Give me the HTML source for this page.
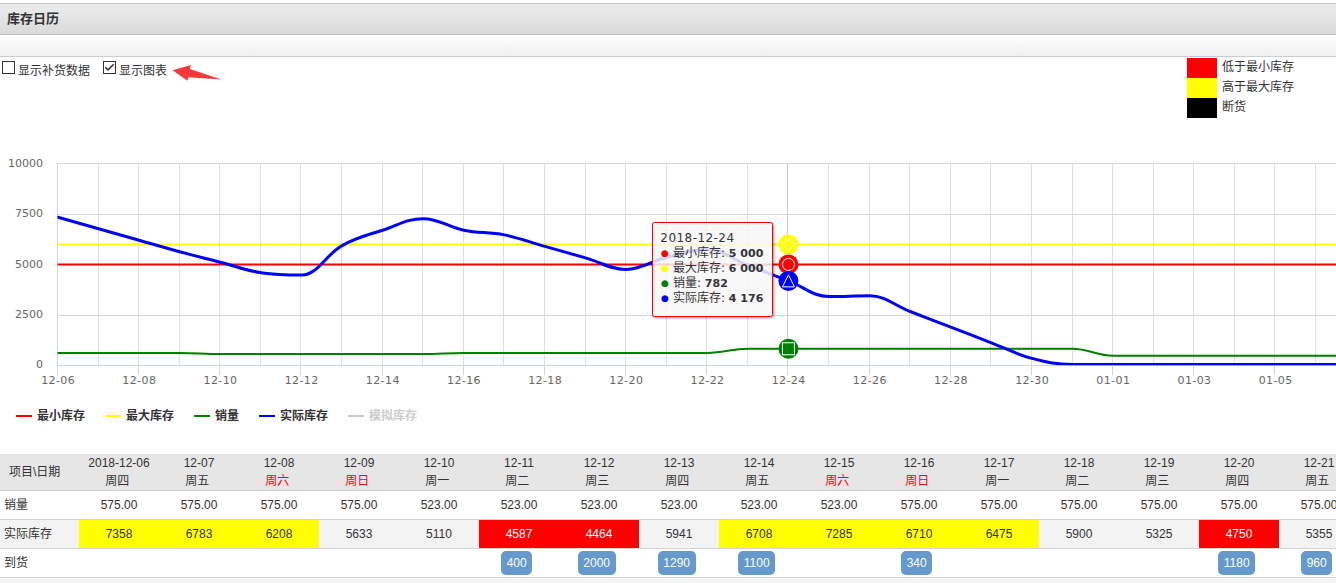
<!DOCTYPE html>
<html><head><meta charset="utf-8"><title>库存日历</title>
<style>
html,body{margin:0;padding:0;background:#fff;}
body{width:1336px;height:583px;overflow:hidden;position:relative;font-family:"Liberation Sans","Noto Sans CJK SC",sans-serif;font-size:12px;color:#333;}
.bar1{position:absolute;left:0;top:3px;width:1336px;height:30px;border-top:1px solid #c9c9c9;border-bottom:1px solid #bdbdbd;background:linear-gradient(#ececec,#dadada);}
.bar1 b{position:absolute;left:7px;top:6px;font-size:13px;line-height:18px;color:#333;}
.bar2{position:absolute;left:0;top:35px;width:1336px;height:21px;border-bottom:1px solid #c8cdd3;background:linear-gradient(#ffffff,#f0f0f0);}
.cb{position:absolute;top:61px;width:11px;height:11px;border:1px solid #333;background:#fff;}
.cbl{position:absolute;top:63px;line-height:17px;font-size:12px;color:#333;}
.lgb{position:absolute;left:1187px;width:30px;height:20px;}
.lgt{position:absolute;left:1222px;line-height:20px;font-size:12px;color:#333;}
svg.chart{position:absolute;left:0;top:0;}
svg text{font-family:"DejaVu Sans","Noto Sans CJK SC",sans-serif;}
.axl text{font-size:11px;fill:#666666;}
.xl text{letter-spacing:0.4px;}
text.lg{font-family:"Liberation Sans","Noto Sans CJK SC",sans-serif;font-size:12px;font-weight:bold;}
.tt text{font-size:12px;fill:#333333;font-family:"DejaVu Sans","Noto Sans CJK SC",sans-serif;}
.tt text.tth{font-size:12px;letter-spacing:0.45px;}
.tt text.dot{font-size:9px;}
.tt tspan.v{font-weight:bold;font-size:11px;}
.thbg{position:absolute;left:0;top:454px;width:1336px;height:36px;background:#e6e6e6;border-bottom:1px solid #cfcfcf;}
.rw{position:absolute;left:0;width:1336px;height:28px;border-bottom:1px solid #d4d4d4;}
.hd{position:absolute;top:454px;width:80px;height:36px;text-align:center;line-height:18px;font-size:12px;color:#333;}
.we{color:#ff0000;}
.wd{position:relative;left:-1.7px;}
.c{position:absolute;width:80px;height:28px;line-height:28px;text-align:center;font-size:12px;color:#333;}
.r1{top:491px;}
.r2{top:520px;}
.r3{top:549px;}
.c.y{background:#ffff00;}
.c.r{background:#ff0000;color:#fff;}
.bd{display:inline-block;background:#6699cc;color:#fff;border-radius:5px;padding:0 5.5px;height:24px;line-height:24px;vertical-align:top;margin-top:2px;position:relative;left:-2.3px;}
.rl{position:absolute;left:4px;line-height:28px;font-size:12px;color:#333;}
</style></head><body>
<div class="bar1"><b>库存日历</b></div>
<div class="bar2"></div>
<div class="cb" style="left:2px"></div><div class="cbl" style="left:18px">显示补货数据</div>
<div class="cb" style="left:103px"><svg width="11" height="11" viewBox="0 0 11 11" style="position:absolute;left:0;top:0"><path d="M1.2 5.3 L3.9 7.9 L9.7 2.3" fill="none" stroke="#333" stroke-width="1.5"/></svg></div><div class="cbl" style="left:119px">显示图表</div>
<svg width="60" height="30" style="position:absolute;left:168px;top:58px" viewBox="168 58 60 30"><path d="M172.6 70.2 L190.8 65.1 L189.9 69.1 L221.3 79.4 L188.2 77.2 L187.5 80.8 Z" fill="#fa3a3a"/></svg>
<div class="lgb" style="top:58px;background:#ff0000"></div><div class="lgt" style="top:57px">低于最小库存</div>
<div class="lgb" style="top:78px;background:#ffff00"></div><div class="lgt" style="top:77px">高于最大库存</div>
<div class="lgb" style="top:98px;background:#000000"></div><div class="lgt" style="top:97px">断货</div>
<svg class="chart" width="1336" height="583" viewBox="0 0 1336 583">
<defs><clipPath id="pc"><rect x="57.5" y="163" width="1300" height="202.2"/></clipPath>
<filter id="sh" x="-10%" y="-10%" width="130%" height="130%"><feDropShadow dx="1" dy="1" stdDeviation="1" flood-color="#000" flood-opacity="0.15"/></filter></defs>
<g><line x1="57" y1="163.5" x2="1336" y2="163.5" stroke="#d8d8d8" stroke-width="1"/><line x1="57" y1="214.5" x2="1336" y2="214.5" stroke="#d8d8d8" stroke-width="1"/><line x1="57" y1="264.5" x2="1336" y2="264.5" stroke="#d8d8d8" stroke-width="1"/><line x1="57" y1="315.5" x2="1336" y2="315.5" stroke="#d8d8d8" stroke-width="1"/><line x1="57.5" y1="163.5" x2="57.5" y2="365" stroke="#dedede" stroke-width="1"/><line x1="98.5" y1="163.5" x2="98.5" y2="365" stroke="#dedede" stroke-width="1"/><line x1="138.5" y1="163.5" x2="138.5" y2="365" stroke="#dedede" stroke-width="1"/><line x1="179.5" y1="163.5" x2="179.5" y2="365" stroke="#dedede" stroke-width="1"/><line x1="219.5" y1="163.5" x2="219.5" y2="365" stroke="#dedede" stroke-width="1"/><line x1="260.5" y1="163.5" x2="260.5" y2="365" stroke="#dedede" stroke-width="1"/><line x1="300.5" y1="163.5" x2="300.5" y2="365" stroke="#dedede" stroke-width="1"/><line x1="341.5" y1="163.5" x2="341.5" y2="365" stroke="#dedede" stroke-width="1"/><line x1="382.5" y1="163.5" x2="382.5" y2="365" stroke="#dedede" stroke-width="1"/><line x1="422.5" y1="163.5" x2="422.5" y2="365" stroke="#dedede" stroke-width="1"/><line x1="463.5" y1="163.5" x2="463.5" y2="365" stroke="#dedede" stroke-width="1"/><line x1="503.5" y1="163.5" x2="503.5" y2="365" stroke="#dedede" stroke-width="1"/><line x1="544.5" y1="163.5" x2="544.5" y2="365" stroke="#dedede" stroke-width="1"/><line x1="585.5" y1="163.5" x2="585.5" y2="365" stroke="#dedede" stroke-width="1"/><line x1="625.5" y1="163.5" x2="625.5" y2="365" stroke="#dedede" stroke-width="1"/><line x1="666.5" y1="163.5" x2="666.5" y2="365" stroke="#dedede" stroke-width="1"/><line x1="706.5" y1="163.5" x2="706.5" y2="365" stroke="#dedede" stroke-width="1"/><line x1="747.5" y1="163.5" x2="747.5" y2="365" stroke="#dedede" stroke-width="1"/><line x1="787.5" y1="163.5" x2="787.5" y2="365" stroke="#dedede" stroke-width="1"/><line x1="828.5" y1="163.5" x2="828.5" y2="365" stroke="#dedede" stroke-width="1"/><line x1="869.5" y1="163.5" x2="869.5" y2="365" stroke="#dedede" stroke-width="1"/><line x1="909.5" y1="163.5" x2="909.5" y2="365" stroke="#dedede" stroke-width="1"/><line x1="950.5" y1="163.5" x2="950.5" y2="365" stroke="#dedede" stroke-width="1"/><line x1="990.5" y1="163.5" x2="990.5" y2="365" stroke="#dedede" stroke-width="1"/><line x1="1031.5" y1="163.5" x2="1031.5" y2="365" stroke="#dedede" stroke-width="1"/><line x1="1072.5" y1="163.5" x2="1072.5" y2="365" stroke="#dedede" stroke-width="1"/><line x1="1112.5" y1="163.5" x2="1112.5" y2="365" stroke="#dedede" stroke-width="1"/><line x1="1153.5" y1="163.5" x2="1153.5" y2="365" stroke="#dedede" stroke-width="1"/><line x1="1193.5" y1="163.5" x2="1193.5" y2="365" stroke="#dedede" stroke-width="1"/><line x1="1234.5" y1="163.5" x2="1234.5" y2="365" stroke="#dedede" stroke-width="1"/><line x1="1274.5" y1="163.5" x2="1274.5" y2="365" stroke="#dedede" stroke-width="1"/><line x1="1315.5" y1="163.5" x2="1315.5" y2="365" stroke="#dedede" stroke-width="1"/><line x1="1356.5" y1="163.5" x2="1356.5" y2="365" stroke="#dedede" stroke-width="1"/><line x1="1396.5" y1="163.5" x2="1396.5" y2="365" stroke="#dedede" stroke-width="1"/></g>
<line x1="787.5" y1="163.5" x2="787.5" y2="365" stroke="#cccccc" stroke-width="1"/>
<line x1="57.5" y1="163" x2="57.5" y2="366" stroke="#ccd6eb" stroke-width="1"/>
<line x1="57" y1="365.5" x2="1336" y2="365.5" stroke="#ccd6eb" stroke-width="1"/>
<g><line x1="57.5" y1="365" x2="57.5" y2="375" stroke="#ccd6eb" stroke-width="1"/><line x1="138.5" y1="365" x2="138.5" y2="375" stroke="#ccd6eb" stroke-width="1"/><line x1="219.5" y1="365" x2="219.5" y2="375" stroke="#ccd6eb" stroke-width="1"/><line x1="300.5" y1="365" x2="300.5" y2="375" stroke="#ccd6eb" stroke-width="1"/><line x1="382.5" y1="365" x2="382.5" y2="375" stroke="#ccd6eb" stroke-width="1"/><line x1="463.5" y1="365" x2="463.5" y2="375" stroke="#ccd6eb" stroke-width="1"/><line x1="544.5" y1="365" x2="544.5" y2="375" stroke="#ccd6eb" stroke-width="1"/><line x1="625.5" y1="365" x2="625.5" y2="375" stroke="#ccd6eb" stroke-width="1"/><line x1="706.5" y1="365" x2="706.5" y2="375" stroke="#ccd6eb" stroke-width="1"/><line x1="787.5" y1="365" x2="787.5" y2="375" stroke="#ccd6eb" stroke-width="1"/><line x1="869.5" y1="365" x2="869.5" y2="375" stroke="#ccd6eb" stroke-width="1"/><line x1="950.5" y1="365" x2="950.5" y2="375" stroke="#ccd6eb" stroke-width="1"/><line x1="1031.5" y1="365" x2="1031.5" y2="375" stroke="#ccd6eb" stroke-width="1"/><line x1="1112.5" y1="365" x2="1112.5" y2="375" stroke="#ccd6eb" stroke-width="1"/><line x1="1193.5" y1="365" x2="1193.5" y2="375" stroke="#ccd6eb" stroke-width="1"/><line x1="1274.5" y1="365" x2="1274.5" y2="375" stroke="#ccd6eb" stroke-width="1"/><line x1="1356.5" y1="365" x2="1356.5" y2="375" stroke="#ccd6eb" stroke-width="1"/></g>
<g class="axl xl"><text x="58.2" y="384" text-anchor="middle">12-06</text><text x="139.3" y="384" text-anchor="middle">12-08</text><text x="220.5" y="384" text-anchor="middle">12-10</text><text x="301.7" y="384" text-anchor="middle">12-12</text><text x="382.8" y="384" text-anchor="middle">12-14</text><text x="464.0" y="384" text-anchor="middle">12-16</text><text x="545.2" y="384" text-anchor="middle">12-18</text><text x="626.3" y="384" text-anchor="middle">12-20</text><text x="707.5" y="384" text-anchor="middle">12-22</text><text x="788.7" y="384" text-anchor="middle">12-24</text><text x="869.8" y="384" text-anchor="middle">12-26</text><text x="951.0" y="384" text-anchor="middle">12-28</text><text x="1032.2" y="384" text-anchor="middle">12-30</text><text x="1113.3" y="384" text-anchor="middle">01-01</text><text x="1194.5" y="384" text-anchor="middle">01-03</text><text x="1275.7" y="384" text-anchor="middle">01-05</text><text x="1356.8" y="384" text-anchor="middle">01-07</text></g>
<g class="axl"><text x="43" y="167.0" text-anchor="end">10000</text><text x="43" y="217.3" text-anchor="end">7500</text><text x="43" y="267.6" text-anchor="end">5000</text><text x="43" y="317.9" text-anchor="end">2500</text><text x="43" y="368.2" text-anchor="end">0</text></g>
<g clip-path="url(#pc)" fill="none" stroke-linejoin="round" stroke-linecap="round">
<path d="M 57.5 264.40 L 1400 264.40" stroke="#ff0000" stroke-width="2"/>
<path d="M 57.5 244.40 L 1400 244.40" stroke="#ffff00" stroke-width="2"/>
<path d="M 57.97 352.90 C 57.97 352.90 82.32 352.90 98.55 352.90 C 114.79 352.90 122.90 352.90 139.14 352.90 C 155.37 352.90 163.49 352.90 179.72 352.90 C 195.95 352.90 204.07 353.94 220.30 353.94 C 236.54 353.94 244.65 353.94 260.88 353.94 C 277.12 353.94 285.23 353.94 301.47 353.94 C 317.70 353.94 325.82 353.94 342.05 353.94 C 358.28 353.94 366.40 353.94 382.63 353.94 C 398.87 353.94 406.98 353.94 423.22 353.94 C 439.45 353.94 447.57 352.90 463.80 352.90 C 480.03 352.90 488.15 352.90 504.38 352.90 C 520.62 352.90 528.73 352.90 544.97 352.90 C 561.20 352.90 569.32 352.90 585.55 352.90 C 601.78 352.90 609.90 352.90 626.13 352.90 C 642.37 352.90 650.48 352.90 666.72 352.90 C 682.95 352.90 691.06 352.90 707.30 352.90 C 723.53 352.90 731.65 348.76 747.88 348.76 C 764.11 348.76 772.23 348.76 788.46 348.76 C 804.70 348.76 812.81 348.76 829.05 348.76 C 845.28 348.76 853.40 348.76 869.63 348.76 C 885.86 348.76 893.98 348.76 910.21 348.76 C 926.45 348.76 934.56 348.76 950.80 348.76 C 967.03 348.76 975.15 348.76 991.38 348.76 C 1007.61 348.76 1015.73 348.76 1031.96 348.76 C 1048.20 348.76 1056.31 348.76 1072.54 348.76 C 1088.78 348.76 1096.89 355.70 1113.13 355.70 C 1129.36 355.70 1137.48 355.70 1153.71 355.70 C 1169.94 355.70 1178.06 355.70 1194.29 355.70 C 1210.53 355.70 1218.64 355.70 1234.88 355.70 C 1251.11 355.70 1259.23 355.70 1275.46 355.70 C 1291.69 355.70 1299.81 355.70 1316.04 355.70 C 1332.28 355.70 1340.39 355.70 1356.63 355.70 C 1372.86 355.70 1397.21 355.70 1397.21 355.70" stroke="#008000" stroke-width="2"/>
<path d="M 57.97 217.24 C 57.97 217.24 82.32 224.14 98.55 228.74 C 114.79 233.34 122.90 235.64 139.14 240.24 C 155.37 244.84 163.49 247.35 179.72 251.74 C 195.95 256.13 204.07 258.02 220.30 262.20 C 236.54 266.38 244.65 270.20 260.88 272.66 C 277.12 275.12 285.23 275.12 301.47 275.12 C 317.70 275.12 325.82 254.56 342.05 245.58 C 358.28 236.60 366.40 235.62 382.63 230.24 C 398.87 224.86 406.98 218.70 423.22 218.70 C 439.45 218.70 447.57 226.96 463.80 230.20 C 480.03 233.44 488.15 231.66 504.38 234.90 C 520.62 238.14 528.73 241.80 544.97 246.40 C 561.20 251.00 569.32 253.30 585.55 257.90 C 601.78 262.50 609.90 269.40 626.13 269.40 C 642.37 269.40 650.48 261.26 666.72 257.30 C 682.95 253.34 691.06 249.60 707.30 249.60 C 723.53 249.60 731.65 258.98 747.88 265.24 C 764.11 271.50 772.23 274.62 788.46 280.88 C 804.70 287.14 812.81 296.52 829.05 296.52 C 845.28 296.52 853.40 295.86 869.63 295.86 C 885.86 295.86 893.98 305.24 910.21 311.50 C 926.45 317.76 934.56 320.88 950.80 327.14 C 967.03 333.40 975.15 336.52 991.38 342.78 C 1007.61 349.04 1015.73 354.10 1031.96 358.42 C 1048.20 362.74 1056.31 364.40 1072.54 364.40 C 1088.78 364.40 1096.89 364.40 1113.13 364.40 C 1129.36 364.40 1137.48 364.40 1153.71 364.40 C 1169.94 364.40 1178.06 364.40 1194.29 364.40 C 1210.53 364.40 1218.64 364.40 1234.88 364.40 C 1251.11 364.40 1259.23 364.40 1275.46 364.40 C 1291.69 364.40 1299.81 364.40 1316.04 364.40 C 1332.28 364.40 1340.39 364.40 1356.63 364.40 C 1372.86 364.40 1397.21 364.40 1397.21 364.40" stroke="#0000ff" stroke-width="3"/>
</g>
<circle cx="788.46" cy="244.40" r="10" fill="#ffff00"/><path d="M 788.46 238.40 L 794.46 244.40 L 788.46 250.40 L 782.46 244.40 Z" fill="#ffff00" stroke="#fff" stroke-width="1"/><circle cx="788.46" cy="264.40" r="10" fill="#ff0000"/><circle cx="788.46" cy="264.40" r="6" fill="#ff0000" stroke="#fff" stroke-width="1"/><circle cx="788.46" cy="348.76" r="10" fill="#008000"/><rect x="782.46" y="342.76" width="12" height="12" fill="#008000" stroke="#fff" stroke-width="1"/><circle cx="788.46" cy="280.88" r="10" fill="#0000ff"/><path d="M 788.46 274.88 L 794.46 286.88 L 782.46 286.88 Z" fill="#0000ff" stroke="#fff" stroke-width="1"/><path d="M 16 416 L 32 416" stroke="#ff0000" stroke-width="2"/><text class="lg" x="37" y="420" fill="#333333">最小库存</text><path d="M 105 416 L 121 416" stroke="#ffff00" stroke-width="2"/><text class="lg" x="126" y="420" fill="#333333">最大库存</text><path d="M 194 416 L 210 416" stroke="#008000" stroke-width="2"/><text class="lg" x="215" y="420" fill="#333333">销量</text><path d="M 259 416 L 275 416" stroke="#0000ff" stroke-width="2"/><text class="lg" x="280" y="420" fill="#333333">实际库存</text><path d="M 348 416 L 364 416" stroke="#cccccc" stroke-width="2"/><text class="lg" x="369" y="420" fill="#cccccc">模拟库存</text><g transform="translate(1,1)" fill="none"><rect x="652.5" y="222.5" width="120" height="94" rx="3" ry="3" stroke="rgba(0,0,0,0.05)" stroke-width="5"/><rect x="652.5" y="222.5" width="120" height="94" rx="3" ry="3" stroke="rgba(0,0,0,0.1)" stroke-width="3"/><rect x="652.5" y="222.5" width="120" height="94" rx="3" ry="3" stroke="rgba(0,0,0,0.15)" stroke-width="1"/></g>
<rect x="652.5" y="222.5" width="120" height="94" rx="2" ry="2" fill="rgba(247,247,247,0.85)" stroke="#ff0000" stroke-width="1"/>
<g class="tt">
<text x="660.3" y="241.8" class="tth">2018-12-24</text>
<text x="661" y="255.8" class="dot" style="fill:#ff0000">●</text><text x="673" y="257">最小库存: <tspan class="v">5 000</tspan></text>
<text x="661" y="270.8" class="dot" style="fill:#ffff00">●</text><text x="673" y="272">最大库存: <tspan class="v">6 000</tspan></text>
<text x="661" y="285.8" class="dot" style="fill:#008000">●</text><text x="673" y="287">销量: <tspan class="v">782</tspan></text>
<text x="661" y="300.8" class="dot" style="fill:#0000ff">●</text><text x="673" y="302">实际库存: <tspan class="v">4 176</tspan></text>
</g>
</svg>
<div class="thbg"></div>
<div class="hd" style="left:9px;width:auto;text-align:left;line-height:36px;">项目\日期</div>
<div class="rw" style="top:491px;background:#fff"></div>
<div class="rw" style="top:520px;background:#f3f3f3"></div>
<div class="rw" style="top:549px;background:#fff"></div>
<div style="position:absolute;left:0;top:579px;width:1336px;height:4px;background:#f4f4f4"></div>
<div class="rl" style="top:491px">销量</div>
<div class="rl" style="top:520px">实际库存</div>
<div class="rl" style="top:549px">到货</div>
<div class="hd" style="left:79px">2018-12-06<br><span class="wd">周四</span></div><div class="c r1" style="left:79px">575.00</div><div class="c r2 y" style="left:79px">7358</div><div class="hd" style="left:159px">12-07<br><span class="wd">周五</span></div><div class="c r1" style="left:159px">575.00</div><div class="c r2 y" style="left:159px">6783</div><div class="hd" style="left:239px">12-08<br><span class="wd we">周六</span></div><div class="c r1" style="left:239px">575.00</div><div class="c r2 y" style="left:239px">6208</div><div class="hd" style="left:319px">12-09<br><span class="wd we">周日</span></div><div class="c r1" style="left:319px">575.00</div><div class="c r2 " style="left:319px">5633</div><div class="hd" style="left:399px">12-10<br><span class="wd">周一</span></div><div class="c r1" style="left:399px">523.00</div><div class="c r2 " style="left:399px">5110</div><div class="hd" style="left:479px">12-11<br><span class="wd">周二</span></div><div class="c r1" style="left:479px">523.00</div><div class="c r2 r" style="left:479px">4587</div><div class="c r3" style="left:479px"><span class="bd">400</span></div><div class="hd" style="left:559px">12-12<br><span class="wd">周三</span></div><div class="c r1" style="left:559px">523.00</div><div class="c r2 r" style="left:559px">4464</div><div class="c r3" style="left:559px"><span class="bd">2000</span></div><div class="hd" style="left:639px">12-13<br><span class="wd">周四</span></div><div class="c r1" style="left:639px">523.00</div><div class="c r2 " style="left:639px">5941</div><div class="c r3" style="left:639px"><span class="bd">1290</span></div><div class="hd" style="left:719px">12-14<br><span class="wd">周五</span></div><div class="c r1" style="left:719px">523.00</div><div class="c r2 y" style="left:719px">6708</div><div class="c r3" style="left:719px"><span class="bd">1100</span></div><div class="hd" style="left:799px">12-15<br><span class="wd we">周六</span></div><div class="c r1" style="left:799px">523.00</div><div class="c r2 y" style="left:799px">7285</div><div class="hd" style="left:879px">12-16<br><span class="wd we">周日</span></div><div class="c r1" style="left:879px">575.00</div><div class="c r2 y" style="left:879px">6710</div><div class="c r3" style="left:879px"><span class="bd">340</span></div><div class="hd" style="left:959px">12-17<br><span class="wd">周一</span></div><div class="c r1" style="left:959px">575.00</div><div class="c r2 y" style="left:959px">6475</div><div class="hd" style="left:1039px">12-18<br><span class="wd">周二</span></div><div class="c r1" style="left:1039px">575.00</div><div class="c r2 " style="left:1039px">5900</div><div class="hd" style="left:1119px">12-19<br><span class="wd">周三</span></div><div class="c r1" style="left:1119px">575.00</div><div class="c r2 " style="left:1119px">5325</div><div class="hd" style="left:1199px">12-20<br><span class="wd">周四</span></div><div class="c r1" style="left:1199px">575.00</div><div class="c r2 r" style="left:1199px">4750</div><div class="c r3" style="left:1199px"><span class="bd">1180</span></div><div class="hd" style="left:1279px">12-21<br><span class="wd">周五</span></div><div class="c r1" style="left:1279px">575.00</div><div class="c r2 " style="left:1279px">5355</div><div class="c r3" style="left:1279px"><span class="bd">960</span></div>
</body></html>
